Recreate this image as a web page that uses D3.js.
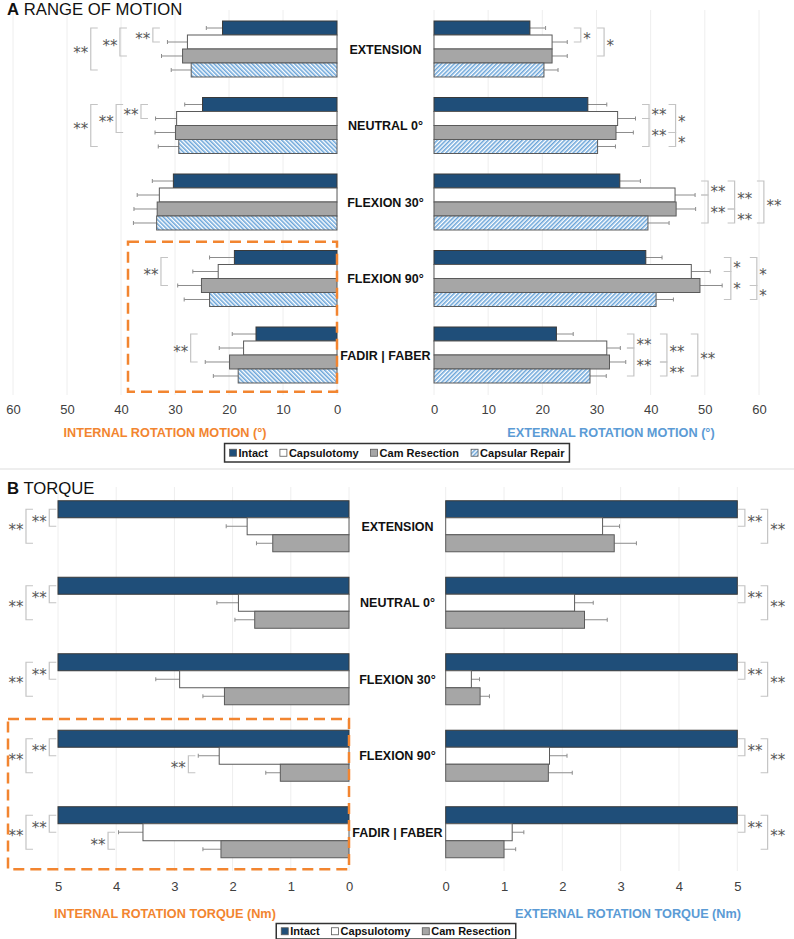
<!DOCTYPE html>
<html><head><meta charset="utf-8">
<script src="https://cdn.jsdelivr.net/npm/d3@7"></script>
<style>body{margin:0;background:#fff} svg{display:block;font-family:"Liberation Sans",Arial,sans-serif}</style>
</head><body>
<svg id="c" width="794" height="939"></svg>
<script>
// ---------- DATA ----------
const categories = ["EXTENSION", "NEUTRAL 0°", "FLEXION 30°", "FLEXION 90°", "FADIR | FABER"];
const seriesMotion = ["Intact", "Capsulotomy", "Cam Resection", "Capsular Repair"];
const seriesTorque = ["Intact", "Capsulotomy", "Cam Resection"];
const motionTicks = [0, 10, 20, 30, 40, 50, 60];
const torqueTicks = [0, 1, 2, 3, 4, 5];

// Internal rotation motion (°): mean and SD
const irmIntact = [21.2, 24.9, 30.3, 19.0, 15.0];
const irmIntactSD = [3.0, 3.3, 3.9, 4.6, 4.4];
const irmCapsulotomy = [27.7, 29.7, 32.9, 22.0, 17.3];
const irmCapsulotomySD = [3.7, 3.9, 4.1, 4.7, 4.5];
const irmCam = [28.6, 29.9, 33.3, 25.1, 19.9];
const irmCamSD = [3.9, 3.8, 4.3, 4.4, 4.5];
const irmRepair = [27.0, 29.3, 33.4, 23.6, 18.3];
const irmRepairSD = [3.7, 3.8, 4.3, 4.7, 4.6];

// External rotation motion (°)
const ermIntact = [17.7, 28.4, 34.3, 39.1, 22.6];
const ermIntactSD = [2.9, 3.5, 3.8, 3.0, 3.1];
const ermCapsulotomy = [21.8, 33.9, 44.5, 47.5, 31.9];
const ermCapsulotomySD = [2.8, 3.3, 3.7, 3.5, 2.5];
const ermCam = [21.8, 33.6, 44.7, 49.1, 32.4];
const ermCamSD = [2.8, 3.2, 3.6, 4.1, 3.0];
const ermRepair = [20.3, 30.2, 39.5, 41.0, 28.8];
const ermRepairSD = [2.6, 3.3, 3.9, 3.2, 3.0];

// Internal rotation torque (Nm)
const irtIntact = [5, 5, 5, 5, 5];
const irtIntactSD = [0, 0, 0, 0, 0];
const irtCapsulotomy = [1.75, 1.90, 2.91, 2.23, 3.54];
const irtCapsulotomySD = [0.36, 0.37, 0.41, 0.36, 0.42];
const irtCam = [1.31, 1.62, 2.14, 1.18, 2.20];
const irtCamSD = [0.28, 0.34, 0.37, 0.25, 0.31];

// External rotation torque (Nm)
const ertIntact = [5, 5, 5, 5, 5];
const ertIntactSD = [0, 0, 0, 0, 0];
const ertCapsulotomy = [2.69, 2.21, 0.44, 1.78, 1.14];
const ertCapsulotomySD = [0.29, 0.32, 0.14, 0.30, 0.20];
const ertCam = [2.89, 2.38, 0.59, 1.76, 1.00];
const ertCamSD = [0.38, 0.39, 0.16, 0.41, 0.20];

// Significance brackets: [category index, series a, series b, bracket position (axis units), label]
const irmSig = [[0,0,1,34.1,"**"],[0,0,2,40.2,"**"],[0,0,3,45.6,"**"],
                [1,0,1,36.3,"**"],[1,0,2,40.9,"**"],[1,0,3,45.6,"**"],
                [3,0,2,32.6,"**"],[4,0,2,27.1,"**"]];
const ermSig = [[0,0,1,27.1,"*"],[0,0,2,31.4,"*"],
                [1,0,1,39.7,"**"],[1,1,3,39.7,"**"],[1,0,2,44.6,"*"],[1,2,3,44.6,"*"],
                [2,0,1,50.6,"**"],[2,1,3,50.6,"**"],[2,0,2,55.5,"**"],[2,2,3,55.5,"**"],[2,0,3,60.9,"**"],
                [3,0,1,54.8,"*"],[3,1,3,54.8,"*"],[3,0,2,59.6,"*"],[3,2,3,59.6,"*"],
                [4,0,1,36.9,"**"],[4,1,3,36.9,"**"],[4,0,2,43.0,"**"],[4,2,3,43.0,"**"],[4,0,3,48.7,"**"]];
const irtSig = [[0,0,1,5.15,"**"],[0,0,2,5.55,"**"],[1,0,1,5.15,"**"],[1,0,2,5.55,"**"],
                [2,0,1,5.15,"**"],[2,0,2,5.55,"**"],[3,0,1,5.15,"**"],[3,0,2,5.55,"**"],
                [4,0,1,5.15,"**"],[4,0,2,5.55,"**"],[3,1,2,2.76,"**"],[4,1,2,4.14,"**"]];
const ertSig = [[0,0,1,5.13,"**"],[0,0,2,5.52,"**"],[1,0,1,5.13,"**"],[1,0,2,5.52,"**"],
                [2,0,1,5.13,"**"],[2,0,2,5.52,"**"],[3,0,1,5.13,"**"],[3,0,2,5.52,"**"],
                [4,0,1,5.13,"**"],[4,0,2,5.52,"**"]];

// ---------- BUILD ----------
const svg = d3.select("#c");
const FONT = '"Liberation Sans", Arial, sans-serif';
const ORANGE = "#F28530", BLUE = "#5B9BD5";

const defs = svg.append("defs");
function hatch(id, angle) {
  const p = defs.append("pattern").attr("id", id).attr("patternUnits", "userSpaceOnUse")
    .attr("width", 3).attr("height", 3).attr("patternTransform", `rotate(${angle})`);
  p.append("rect").attr("width", 3).attr("height", 3).attr("fill", "#fff");
  p.append("line").attr("x1", 0.8).attr("y1", 0).attr("x2", 0.8).attr("y2", 3)
    .attr("stroke", BLUE).attr("stroke-width", 1.4);
}
hatch("hatchR", 45);
hatch("hatchL", -45);

const fillFor = (s, side) => ({
  "Intact": "#1F4E79", "Capsulotomy": "#FFFFFF", "Cam Resection": "#A6A6A6",
  "Capsular Repair": side === "left" ? "url(#hatchL)" : "url(#hatchR)"
})[s];

function rows(series, means, sds) {
  const out = [];
  categories.forEach((c, ci) => series.forEach((s, si) =>
    out.push({cat: c, ser: s, v: means[si][ci], sd: sds[si][ci]})));
  return out;
}

function panel(o) {
  const g = svg.append("g");
  const x = d3.scaleLinear().domain(o.domain).range(o.range);
  const y = d3.scaleBand().domain(categories).range(o.yRange).paddingInner(o.pi).paddingOuter(o.po);
  const yi = d3.scaleBand().domain(o.series).range([0, y.bandwidth()]);
  // grid
  g.append("g").selectAll("line").data(o.ticks).join("line")
    .attr("x1", d => x(d)).attr("x2", d => x(d)).attr("y1", o.grid[0]).attr("y2", o.grid[1])
    .attr("stroke", "#eeeeee").attr("stroke-width", 1);
  // axis
  const ax = g.append("g").attr("transform", `translate(0,${o.axisY})`)
    .call(d3.axisBottom(x).tickValues(o.ticks).tickSize(0).tickPadding(4.8).tickFormat(d3.format("d")));
  ax.select(".domain").remove();
  ax.selectAll("text").attr("font-size", 13).attr("font-family", FONT).attr("fill", "#404040");
  // bars
  const data = rows(o.series, o.means, o.sds);
  const left = o.side === "left";
  const bars = g.append("g").selectAll("g").data(data).join("g")
    .attr("transform", d => `translate(0,${y(d.cat) + yi(d.ser)})`);
  bars.append("line")
    .filter(d => d.sd > 0)
    .attr("x1", d => x(d.v)).attr("x2", d => x(d.v + d.sd))
    .attr("y1", yi.bandwidth() / 2).attr("y2", yi.bandwidth() / 2)
    .attr("stroke", "#8c8c8c").attr("stroke-width", 1);
  bars.append("line")
    .filter(d => d.sd > 0)
    .attr("x1", d => x(d.v + d.sd)).attr("x2", d => x(d.v + d.sd))
    .attr("y1", yi.bandwidth() / 2 - 2).attr("y2", yi.bandwidth() / 2 + 2)
    .attr("stroke", "#8c8c8c").attr("stroke-width", 1);
  bars.append("rect")
    .attr("x", d => Math.min(x(0), x(d.v))).attr("width", d => Math.abs(x(d.v) - x(0)))
    .attr("y", 0).attr("height", yi.bandwidth())
    .attr("fill", d => fillFor(d.ser, o.side))
    .attr("stroke", d => d.ser === "Intact" ? "#3a3a3a" : "#5a5a5a").attr("stroke-width", 1);
  // significance
  const sg = g.append("g").attr("opacity", 0.99);
  o.sig.forEach(([ci, a, b, v, lab]) => {
    const c = categories[ci];
    const y1 = y(c) + yi(o.series[a]) + yi.bandwidth() / 2;
    const y2 = y(c) + yi(o.series[b]) + yi.bandwidth() / 2;
    const xv = x(v);
    const dir = left ? 1 : -1;
    const t = 7;
    sg.append("path").attr("d", `M${xv + dir * t},${y1}H${xv}V${y2}H${xv + dir * t}`)
      .attr("fill", "none").attr("stroke", "#c4c4c4").attr("stroke-width", 1.2);
    sg.append("text").text(lab)
      .attr("x", left ? xv - 2.5 : xv + 2.5).attr("y", (y1 + y2) / 2 + 8.8)
      .attr("text-anchor", left ? "end" : "start")
      .attr("font-family", '"DejaVu Sans", sans-serif').attr("font-size", 15).attr("fill", "#555555");
  });
  return {x, y, yi};
}

// Panel A
const yA = [10.75, 393.25];
const pA = panel({side: "left", domain: [0, 60], range: [337, 13], yRange: yA, pi: 0.268, po: 0.134,
  series: seriesMotion, means: [irmIntact, irmCapsulotomy, irmCam, irmRepair],
  sds: [irmIntactSD, irmCapsulotomySD, irmCamSD, irmRepairSD], sig: irmSig, ticks: motionTicks,
  grid: [10, 395], axisY: 400});
panel({side: "right", domain: [0, 60], range: [434, 759], yRange: yA, pi: 0.268, po: 0.134,
  series: seriesMotion, means: [ermIntact, ermCapsulotomy, ermCam, ermRepair],
  sds: [ermIntactSD, ermCapsulotomySD, ermCamSD, ermRepairSD], sig: ermSig, ticks: motionTicks,
  grid: [10, 395], axisY: 400});

// Panel B
const yB = [488, 870.5];
const pB = panel({side: "left", domain: [0, 5], range: [349, 58], yRange: yB, pi: 0.333, po: 0.1667,
  series: seriesTorque, means: [irtIntact, irtCapsulotomy, irtCam],
  sds: [irtIntactSD, irtCapsulotomySD, irtCamSD], sig: irtSig, ticks: torqueTicks,
  grid: [487, 871], axisY: 877});
panel({side: "right", domain: [0, 5], range: [445.7, 737.3], yRange: yB, pi: 0.333, po: 0.1667,
  series: seriesTorque, means: [ertIntact, ertCapsulotomy, ertCam],
  sds: [ertIntactSD, ertCapsulotomySD, ertCamSD], sig: ertSig, ticks: torqueTicks,
  grid: [487, 871], axisY: 877});

// category labels
function catLabels(yScale, cx) {
  svg.append("g").selectAll("text").data(categories).join("text")
    .attr("x", cx).attr("y", d => yScale(d) + yScale.bandwidth() / 2 + 4.5)
    .attr("text-anchor", "middle").attr("font-weight", "bold").attr("font-size", 12.5)
    .attr("font-family", FONT).attr("fill", "#111").text(d => d);
}
catLabels(pA.y, 385.5);
catLabels(pB.y, 397.5);

// dashed highlight boxes
function dashBox(x0, y0, x1, y1) {
  svg.append("rect").attr("x", x0).attr("y", y0).attr("width", x1 - x0).attr("height", y1 - y0)
    .attr("fill", "none").attr("stroke", ORANGE).attr("stroke-width", 2.5)
    .attr("stroke-dasharray", "11,6");
}
dashBox(128, 241.7, pA.x(0), 391.7);
dashBox(8, 719, pB.x(0), 869.3);

// titles
function title(y, letter, rest) {
  const t = svg.append("text").attr("x", 7).attr("y", y).attr("font-family", FONT).attr("font-size", 16.7).attr("fill", "#111");
  t.append("tspan").attr("font-weight", "bold").text(letter);
  t.append("tspan").text(" " + rest);
}
title(15, "A", "RANGE OF MOTION");
title(493.5, "B", "TORQUE");

// axis titles
function axisTitle(x, y, txt, col) {
  svg.append("text").attr("x", x).attr("y", y).attr("text-anchor", "middle")
    .attr("font-family", FONT).attr("font-weight", "bold").attr("font-size", 12.7)
    .attr("fill", col).text(txt);
}
axisTitle(165, 436.5, "INTERNAL ROTATION MOTION (°)", ORANGE);
axisTitle(611, 436.5, "EXTERNAL ROTATION MOTION (°)", BLUE);
axisTitle(165, 917.5, "INTERNAL ROTATION TORQUE (Nm)", ORANGE);
axisTitle(628, 917.5, "EXTERNAL ROTATION TORQUE (Nm)", BLUE);

// separator
svg.append("line").attr("x1", 0).attr("x2", 794).attr("y1", 469).attr("y2", 469)
  .attr("stroke", "#dddddd").attr("stroke-width", 1);

// legends
function legend(series, cx, y0, h) {
  const g = svg.append("g");
  const items = g.selectAll("g").data(series).join("g");
  items.append("rect").attr("width", 7).attr("height", 7).attr("y", -3.5)
    .attr("fill", d => d === "Capsular Repair" ? "url(#hatchR)" : fillFor(d, "right"))
    .attr("stroke", "#595959").attr("stroke-width", 0.8);
  items.append("text").attr("x", 9).attr("y", 4).attr("font-family", FONT).attr("font-weight", "bold")
    .attr("font-size", 11).attr("fill", "#111").text(d => d);
  const gap = 12, pad = 5;
  let xpos = 0;
  const widths = [];
  items.each(function() { widths.push(9 + d3.select(this).select("text").node().getComputedTextLength()); });
  const total = d3.sum(widths) + gap * (series.length - 1) + pad * 2;
  const x0 = cx - total / 2;
  xpos = x0 + pad;
  items.attr("transform", (d, i) => { const tx = xpos; xpos += widths[i] + gap; return `translate(${tx},${y0 + h / 2})`; });
  g.insert("rect", ":first-child").attr("x", x0).attr("y", y0).attr("width", total).attr("height", h)
    .attr("fill", "#fff").attr("stroke", "#333").attr("stroke-width", 1.5);
}
legend(seriesMotion, 397, 443.5, 18.5);
legend(seriesTorque, 396, 923.5, 15.5);
</script>
</body></html>
